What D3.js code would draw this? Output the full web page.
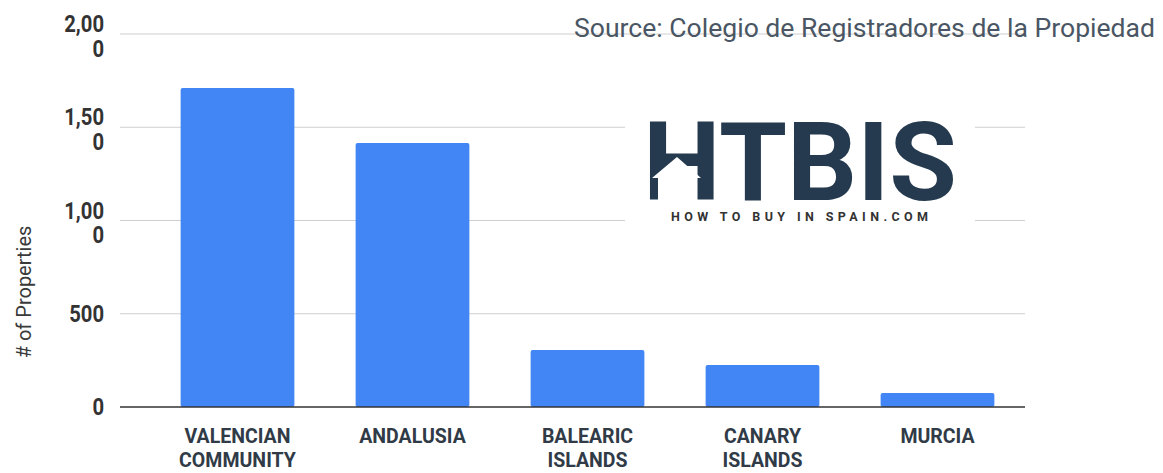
<!DOCTYPE html>
<html>
<head>
<meta charset="utf-8">
<script src="https://cdn.jsdelivr.net/npm/d3@7"></script>
<style>
  body { margin: 0; background: #fff; }
  text { font-family: Roboto, "Open Sans", sans-serif; }
</style>
</head>
<body>
<svg id="chart" width="1163" height="473"></svg>
<script>
// data
const regions = [["VALENCIAN", "COMMUNITY"], ["ANDALUSIA"], ["BALEARIC", "ISLANDS"], ["CANARY", "ISLANDS"], ["MURCIA"]];
const properties = [1710, 1415, 305, 225, 75];
const yTicks = [0, 500, 1000, 1500, 2000];
const yTickLabels = [["0"], ["500"], ["1,00", "0"], ["1,50", "0"], ["2,00", "0"]];

const svg = d3.select("#chart");
const gridLeft = 120, gridRight = 1025;

const x = d3.scaleBand()
  .domain(d3.range(regions.length))
  .range([150, 1025])
  .paddingInner(0.35)
  .paddingOuter(0.175);

const y = d3.scaleLinear()
  .domain([0, 2000])
  .range([407, 34]);

// gridlines
svg.append("g").selectAll("line")
  .data(yTicks.filter(d => d > 0))
  .join("line")
  .attr("x1", gridLeft).attr("x2", gridRight)
  .attr("y1", d => y(d)).attr("y2", d => y(d))
  .attr("stroke", "#cfcfcf").attr("stroke-width", 1);

// y tick labels (wrapped like the original), slightly condensed
svg.append("g").selectAll("text")
  .data(yTicks)
  .join("text")
  .attr("text-anchor", "end")
  .attr("font-size", 23)
  .attr("font-weight", "bold")
  .attr("fill", "#333")
  .attr("transform", d => "translate(104," + y(d) + ") scale(0.88,1)")
  .each(function(d, i) {
    const lines = yTickLabels[i];
    const t = d3.select(this);
    lines.forEach((s, j) => {
      t.append("tspan")
        .attr("x", 0)
        .attr("y", lines.length > 1 ? -2 + j * 25 : 8)
        .text(s);
    });
  });

// bars
svg.append("g").selectAll("rect")
  .data(properties)
  .join("rect")
  .attr("x", (d, i) => x(i))
  .attr("width", x.bandwidth())
  .attr("y", d => y(d))
  .attr("height", d => y(0) - y(d))
  .attr("rx", 2)
  .attr("fill", "#4285f4");

// baseline
svg.append("line")
  .attr("x1", gridLeft).attr("x2", gridRight)
  .attr("y1", y(0)).attr("y2", y(0))
  .attr("stroke", "#333").attr("stroke-width", 1.5);

// x labels, condensed bold
svg.append("g").selectAll("text")
  .data(regions)
  .join("text")
  .attr("text-anchor", "middle")
  .attr("font-size", 21)
  .attr("font-weight", "bold")
  .attr("fill", "#303b47")
  .attr("transform", (d, i) => "translate(" + (x(i) + x.bandwidth() / 2) + ",0) scale(0.93,1)")
  .each(function(lines) {
    const t = d3.select(this);
    lines.forEach((s, j) => {
      t.append("tspan")
        .attr("x", 0)
        .attr("y", 443 + j * 24)
        .text(s);
    });
  });

// y axis title
svg.append("text")
  .attr("transform", "translate(31,292) rotate(-90)")
  .attr("text-anchor", "middle")
  .attr("font-size", 20)
  .attr("fill", "#3a3a3a")
  .text("# of Properties");

// source note
svg.append("text")
  .attr("x", 574).attr("y", 37)
  .attr("font-size", 26)
  .attr("fill", "#4a5663")
  .attr("textLength", 581)
  .attr("lengthAdjust", "spacingAndGlyphs")
  .text("Source: Colegio de Registradores de la Propiedad");

// logo
const logo = svg.append("g");
logo.append("rect")
  .attr("x", 625).attr("y", 100).attr("width", 350).attr("height", 130)
  .attr("fill", "#fff");
logo.append("text")
  .attr("x", 643).attr("y", 200)
  .attr("font-size", 110)
  .attr("font-weight", "bold")
  .attr("fill", "#253a4f")
  .attr("textLength", 314)
  .attr("lengthAdjust", "spacingAndGlyphs")
  .text("HTBIS");
logo.append("path")
  .attr("d", "M652,178 L677,157 L701,178 L695,178 L695,201 L658,201 L658,178 Z")
  .attr("fill", "#fff");
logo.append("text")
  .attr("x", 671).attr("y", 221)
  .attr("font-size", 12.5)
  .attr("font-weight", "bold")
  .attr("fill", "#333")
  .attr("textLength", 257)
  .text("HOW TO BUY IN SPAIN.COM");
</script>
</body>
</html>
